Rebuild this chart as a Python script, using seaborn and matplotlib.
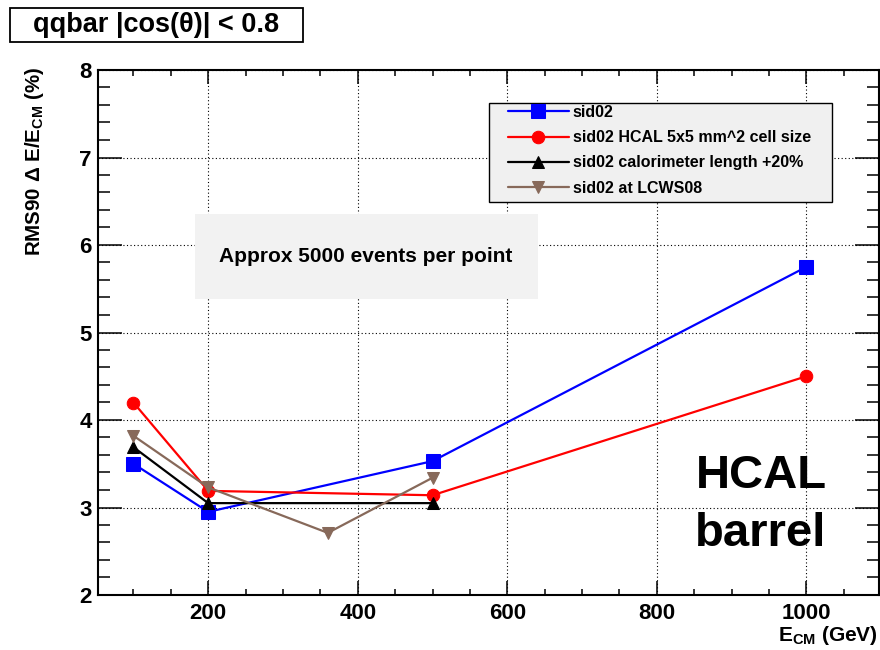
import matplotlib
matplotlib.use("Agg")
import numpy as np
import pandas as pd
import matplotlib.pyplot as plt
import seaborn as sns
from matplotlib.patches import Rectangle

# values
series_names = ["sid02", "sid02 HCAL 5x5 mm^2 cell size",
                "sid02 calorimeter length +20%", "sid02 at LCWS08"]
e_sid02 = [100, 200, 500, 1000]
rms_sid02 = [3.50, 2.95, 3.53, 5.75]
e_hcal5 = [100, 200, 500, 1000]
rms_hcal5 = [4.20, 3.19, 3.14, 4.50]
e_callen = [100, 200, 500]
rms_callen = [3.69, 3.05, 3.05]
e_lcws08 = [100, 200, 360, 500]
rms_lcws08 = [3.82, 3.23, 2.71, 3.34]

colors = ["#0000ff", "#ff0000", "#000000", "#87695a"]
markers = ["s", "o", "^", "v"]
msizes = [9.5, 9, 9, 9]

sns.set_style("ticks")
plt.rcParams["font.family"] = ["Liberation Sans", "DejaVu Sans"]
plt.rcParams["font.weight"] = "bold"
plt.rcParams["text.color"] = "black"
plt.rcParams["axes.labelcolor"] = "black"
plt.rcParams["xtick.color"] = "black"
plt.rcParams["ytick.color"] = "black"
plt.rcParams["mathtext.fontset"] = "custom"
plt.rcParams["mathtext.rm"] = "Liberation Sans"
plt.rcParams["mathtext.bf"] = "Liberation Sans:bold"
plt.rcParams["mathtext.default"] = "bf"

W, H = 880, 650
fig = plt.figure(figsize=(8.8, 6.5), dpi=100)
ax = fig.add_axes([97.5 / W, 1 - 595 / H, 781.5 / W, 525 / H])

xs = [e_sid02, e_hcal5, e_callen, e_lcws08]
ys = [rms_sid02, rms_hcal5, rms_callen, rms_lcws08]
for name, x, y, c, m, ms in zip(series_names, xs, ys, colors, markers, msizes):
    df = pd.DataFrame({"E": x, "rms": y})
    sns.lineplot(data=df, x="E", y="rms", ax=ax, color=c, marker=m,
                 markersize=ms, markeredgecolor=c, linewidth=1.6,
                 label=name, zorder=3)

ax.set_xlim(52, 1097)
ax.set_ylim(2, 8)
ax.set_xticks([200, 400, 600, 800, 1000])
ax.set_xticks(np.arange(100, 1100, 50), minor=True)
ax.set_yticks([2, 3, 4, 5, 6, 7, 8])
ax.set_yticks(np.arange(2, 8.01, 0.2), minor=True)
ax.set_xlabel("")
ax.set_ylabel("")

for s in ax.spines.values():
    s.set_visible(True)
    s.set_linewidth(1.5)
    s.set_color("black")
ax.tick_params(axis="both", which="both", direction="in", top=True,
               right=True, width=1.1, colors="black", labelsize=16)
ax.tick_params(axis="x", which="major", length=10, pad=6)
ax.tick_params(axis="x", which="minor", length=4.5)
ax.tick_params(axis="y", which="major", length=17, pad=4)
ax.tick_params(axis="y", which="minor", length=8.5)

ax.set_axisbelow(True)
ax.grid(True, which="major", color="black", linestyle=(0, (1, 2.2)),
        linewidth=0.8)

# grey note box
ax.add_patch(Rectangle((195 / W, 1 - 299 / H), 343 / W, 85 / H,
                       transform=fig.transFigure, facecolor="#f2f2f2",
                       edgecolor="none", zorder=1.5))
fig.text(366 / W, 1 - 256 / H, "Approx 5000 events per point", fontsize=15,
         ha="center", va="center", zorder=4)

# legend box
ax.add_patch(Rectangle((488.5 / W, 1 - 201.5 / H), 343 / W, 99 / H,
                       transform=fig.transFigure, facecolor="#f0f0f0",
                       edgecolor="black", linewidth=1.0, zorder=4))
leg = ax.legend(loc="upper left", bbox_to_anchor=(508 / W, 1 - 105 / H),
                bbox_transform=fig.transFigure, frameon=False, borderpad=0,
                borderaxespad=0, handlelength=3.8, handletextpad=0.25,
                labelspacing=0.64, fontsize=11.5)
leg.set_zorder(5)

fig.text(696 / W, 1 - 488 / H, "HCAL", fontsize=34, ha="left", va="baseline")
fig.text(695 / W, 1 - 546 / H, "barrel", fontsize=34, ha="left", va="baseline")

fig.text(878 / W, 1 - 641 / H, r"E$_{CM}$ (GeV)", fontsize=15, ha="right",
         va="baseline")
fig.text(35 / W, 1 - 67 / H, r"RMS90 $\mathrm{\Delta}$ E/E$_{CM}$ (%)",
         fontsize=14.8, rotation=90, ha="center", va="top")

# title box top left
fig.patches.append(Rectangle((9.5 / W, 1 - 41.5 / H), 293 / W, 33 / H,
                             transform=fig.transFigure, facecolor="white",
                             edgecolor="black", linewidth=1.3))
fig.text(156 / W, 1 - 25 / H, r"qqbar |cos(θ)| < 0.8", fontsize=19.5,
         ha="center", va="center")

fig.savefig("out.png", dpi=100)
